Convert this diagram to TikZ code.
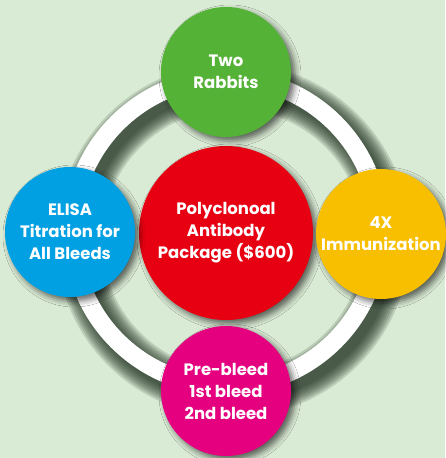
\documentclass[tikz,border=0pt]{standalone}
\usepackage{fontspec}
\setmainfont{Poppins}
\usetikzlibrary{shadows.blur}
\definecolor{bggreen}{RGB}{218,235,213}
\definecolor{pgreen}{RGB}{84,178,54}
\definecolor{pblue}{RGB}{0,160,227}
\definecolor{pyellow}{RGB}{248,190,0}
\definecolor{pmagenta}{RGB}{228,0,127}
\definecolor{pred}{RGB}{230,0,18}
\definecolor{ringshade}{RGB}{30,45,30}
\begin{document}
\begin{tikzpicture}[x=1pt,y=1pt,font=\bfseries\fontsize{16.5}{22}\selectfont,
  bubble/.style={circle,minimum size=130,inner sep=0pt,text=white,align=center,
    blur shadow={shadow xshift=4pt,shadow yshift=-4pt,shadow blur radius=6pt,shadow opacity=60}}]
  % 背景
  \fill[bggreen] (0,0) rectangle (445,458);
  \useasboundingbox (0,0) rectangle (445,458);
  % 环的阴影
  \foreach \w in {46,42,...,18}
    \draw[ringshade,opacity=0.16,line width=\w] (233,218) circle (154);
  % 白环
  \draw[white,line width=18] (226,226) circle (154);
  % 中心
  \node[bubble,fill=pred,minimum size=174] (package) at (226,225)
    {Polyclonoal\\Antibody\\Package (\$600)};
  % 四周
  \node[bubble,fill=pgreen] (rabbits) at (226,386) {Two\\Rabbits};
  \node[bubble,fill=pblue] (elisa) at (70,226) {ELISA\\Titration for\\All Bleeds};
  \node[bubble,fill=pyellow] (immun) at (381,224) {4X\\Immunization};
  \node[bubble,fill=pmagenta] (bleeds) at (226,67) {Pre-bleed\\1st bleed\\2nd bleed};
\end{tikzpicture}
\end{document}
